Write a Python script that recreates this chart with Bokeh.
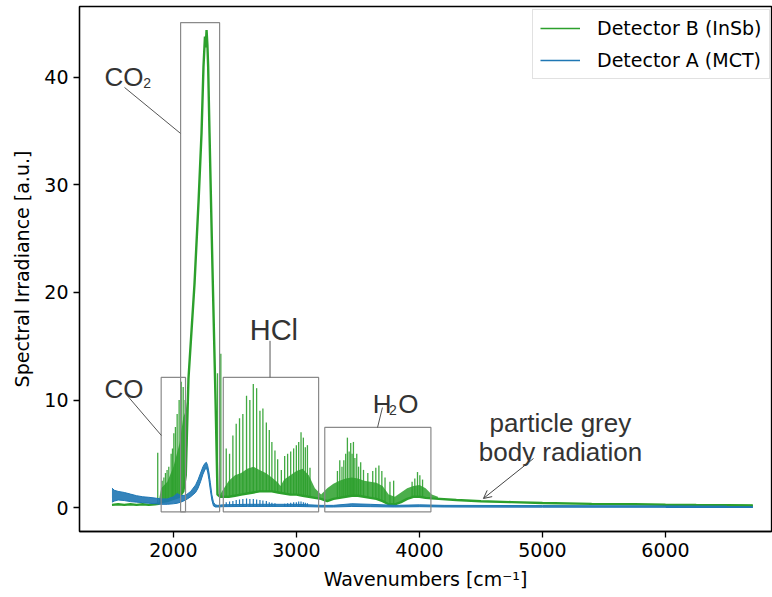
import numpy as np
from bokeh.plotting import figure
from bokeh.models import Range1d, FixedTicker, Legend, LegendItem, Arrow, OpenHead
from bokeh.core.properties import value
from bokeh.embed import file_html
from bokeh.resources import INLINE

# ---------------- data ----------------
# Detector B (InSb) - continuous trace
green_wn = [1500, 1550, 1600, 1650, 1700, 1750, 1800, 1850, 1880, 1900, 1950, 2000, 2050, 2080,
            2100, 2122, 2171, 2204, 2228, 2244, 2256, 2262, 2269, 2276, 2282, 2293, 2317, 2342,
            2358, 2380, 2400, 2450, 2500, 2550, 2600, 2650, 2700, 2750, 2800, 2850, 2900, 2950,
            3000, 3050, 3100, 3150, 3200, 3250, 3300, 3350, 3400, 3450, 3500, 3550, 3600, 3650,
            3700, 3750, 3800, 3850, 3900, 3950, 4000, 4050, 4100, 4300, 4500, 4750, 5000, 5400,
            5750, 6000, 6250, 6500, 6710]
green_val = [0.25, 0.3, 0.25, 0.3, 0.25, 0.3, 0.25, 0.3, 0.35, 0.5, 0.6, 0.8, 1.0, 1.5,
             3.0, 12.0, 20.8, 28.5, 34.8, 41.0, 43.8, 42.8, 44.4, 43.0, 41.0, 34.8, 22.3, 10.0,
             1.2, 1.0, 1.0, 1.0, 1.1, 1.2, 1.3, 1.4, 1.5, 1.5, 1.5, 1.4, 1.3, 1.2,
             1.2, 1.1, 1.0, 0.9, 0.8, 0.6, 0.8, 0.9, 1.0, 1.1, 1.1, 1.0, 0.9, 0.8,
             0.6, 0.3, 0.3, 0.5, 0.8, 1.0, 1.0, 0.9, 0.85, 0.7, 0.58, 0.5, 0.42, 0.34,
             0.3, 0.26, 0.23, 0.21, 0.19]

# Detector B dense (unresolved) line regions: lower / upper envelope
co_wn = [1880, 1900, 1950, 2000, 2050, 2080, 2100, 2112]
co_lo = [0.3, 0.5, 0.6, 0.8, 1.0, 1.5, 3.0, 6.0]
co_hi = [0.6, 1.8, 2.4, 3.8, 6.0, 8.4, 9.0, 10.0]

hcl_wn = [2380, 2400, 2450, 2500, 2550, 2600, 2650, 2700, 2750, 2800, 2850, 2870, 2900,
          2950, 3000, 3050, 3100, 3150, 3200]
hcl_lo = [1.0, 1.0, 1.0, 1.1, 1.2, 1.3, 1.4, 1.5, 1.5, 1.5, 1.4, 1.35, 1.3,
          1.2, 1.2, 1.1, 1.0, 0.9, 0.8]
hcl_hi = [1.2, 1.6, 2.5, 3.0, 3.2, 3.6, 3.8, 3.5, 3.2, 2.8, 2.3, 2.0, 2.6,
          3.0, 3.4, 3.6, 3.0, 1.8, 1.2]

h2o_wn = [3200, 3250, 3300, 3350, 3400, 3450, 3500, 3550, 3600, 3650, 3700, 3750, 3800,
          3850, 3900, 3950, 4000, 4050, 4100, 4150]
h2o_lo = [0.8, 0.6, 0.8, 0.9, 1.0, 1.1, 1.1, 1.0, 0.9, 0.8, 0.6, 0.3, 0.3,
          0.5, 0.8, 1.0, 1.0, 0.9, 0.85, 0.8]
h2o_hi = [1.2, 1.8, 2.2, 2.5, 2.7, 2.8, 2.7, 2.5, 2.4, 2.3, 2.0, 1.2, 1.0,
          1.4, 1.8, 2.0, 2.1, 1.8, 1.2, 1.0]

# Detector B resolved lines (position, peak)
green_spike_wn = [1872, 1908, 1922, 1935, 1948, 1962, 1981, 1992, 2003, 2016, 2030, 2046,
                  2063, 2079, 2095, 2358, 2385,
                  2429, 2456, 2483, 2510, 2537, 2564, 2594, 2621, 2649, 2676, 2703, 2727,
                  2755, 2779, 2800, 2825, 2847, 2877, 2904, 2928, 2953, 2977, 2999, 3018,
                  3037, 3056, 3072, 3089, 3110,
                  3333, 3352, 3370, 3385, 3400, 3414, 3428, 3441, 3452, 3463, 3475, 3490,
                  3505, 3522, 3545, 3580, 3620, 3645, 3670, 3694, 3720, 3760, 3790, 3940,
                  3962, 3984, 4003, 4025]
green_spike_top = [5.1, 2.5, 2.8, 3.2, 3.5, 3.8, 5.0, 5.5, 6.9, 7.5, 8.7, 10.0,
                   11.7, 11.2, 10.0, 12.5, 14.3,
                   5.5, 5.0, 6.7, 7.8, 8.3, 8.7, 10.4, 10.0, 11.5, 11.1, 9.0, 9.2,
                   7.9, 7.2, 6.1, 5.3, 4.5, 3.5, 4.8, 5.0, 5.2, 5.5, 5.8, 6.1,
                   7.0, 6.5, 5.6, 5.8, 3.7,
                   3.4, 4.4, 3.8, 4.4, 5.0, 6.5, 5.2, 6.0, 5.0, 6.1, 4.6, 5.0,
                   3.8, 4.2, 3.5, 3.2, 3.4, 3.7, 3.9, 3.4, 2.8, 2.4, 2.5, 2.4,
                   2.7, 3.3, 3.0, 2.6]

# Detector A (MCT) - noisy trace, lower / upper envelope
blue_wn = [1500, 1520, 1550, 1600, 1650, 1700, 1750, 1800, 1850, 1900, 1950, 2000, 2030,
           2060, 2100, 2140, 2180, 2200, 2220, 2240, 2255, 2268, 2278, 2288, 2300, 2312,
           2325, 2340, 2360, 2400, 2600, 2800, 3000, 3200, 3300, 3450, 3600, 3800, 4000,
           4200, 5000, 6000, 6710]
blue_lo = [0.5, 0.6, 0.7, 0.65, 0.55, 0.5, 0.45, 0.4, 0.35, 0.3, 0.3, 0.35, 0.4,
           0.5, 0.7, 1.0, 1.4, 1.8, 2.4, 3.1, 3.5, 3.7, 3.3, 2.6, 1.6, 0.7,
           0.15, 0.05, 0.05, 0.08, 0.1, 0.1, 0.1, 0.05, 0.05, 0.1, 0.08, 0.05, 0.08,
           0.05, 0.03, 0.02, 0.02]
blue_hi = [1.8, 1.6, 1.5, 1.4, 1.25, 1.1, 1.0, 0.95, 0.88, 0.8, 0.8, 1.0, 1.3,
           1.1, 1.15, 1.5, 2.1, 2.6, 3.2, 3.8, 4.1, 4.2, 3.9, 3.3, 2.3, 1.2,
           0.5, 0.25, 0.2, 0.25, 0.3, 0.3, 0.3, 0.2, 0.2, 0.35, 0.3, 0.2, 0.25,
           0.2, 0.18, 0.15, 0.12]

blue_spike_wn = [2429, 2456, 2483, 2510, 2537, 2564, 2594, 2621, 2649, 2676, 2703, 2727,
                 2755, 2779, 2800, 2825, 2904, 2928, 2953, 2977, 2999, 3018, 3037, 3056,
                 3072, 3089]
blue_spike_top = [0.5, 0.55, 0.6, 0.7, 0.75, 0.8, 0.85, 0.8, 0.8, 0.75, 0.7, 0.65,
                  0.6, 0.5, 0.45, 0.4, 0.35, 0.4, 0.45, 0.5, 0.5, 0.55, 0.55, 0.5,
                  0.45, 0.4]

# highlighted band regions
box_left = [1900, 2058, 2405, 3230]
box_right = [2098, 2375, 3180, 4093]
box_bottom = [-0.4, -0.4, -0.4, -0.4]
box_top = [12.1, 45.1, 12.1, 7.45]

x_ticks = [2000, 3000, 4000, 5000, 6000]
y_ticks = [0, 10, 20, 30, 40]

GREEN = "#2ca02c"
BLUE = "#1f77b4"

# ---------------- figure ----------------
p = figure(width=772, height=597, output_backend="svg", toolbar_location=None,
           x_range=Range1d(1236, 6862), y_range=Range1d(-2.23, 46.6),
           min_border_left=79, min_border_right=1, min_border_top=6, min_border_bottom=66)
p.background_fill_color = "white"
p.border_fill_color = "white"
p.grid.visible = False
p.outline_line_color = "black"
p.outline_line_width = 1.3
p.outline_line_alpha = 1

for ax, ticks in ((p.xaxis, x_ticks), (p.yaxis, y_ticks)):
    ax.ticker = FixedTicker(ticks=ticks)
    ax.minor_tick_line_color = None
    ax.major_tick_out = 6
    ax.major_tick_in = 0
    ax.major_tick_line_width = 1.3
    ax.axis_line_width = 1.3
    ax.major_label_text_font = "DejaVu Sans"
    ax.major_label_text_font_size = "19px"
    ax.major_label_text_color = "black"
    ax.major_label_standoff = 5
    ax.axis_label_text_font = "DejaVu Sans"
    ax.axis_label_text_font_size = "19px"
    ax.axis_label_text_font_style = "normal"
    ax.axis_label_text_color = "black"
p.xaxis.axis_label = "Wavenumbers [cm⁻¹]"
p.yaxis.axis_label = "Spectral Irradiance [a.u.]"
p.xaxis.axis_label_standoff = 8
p.yaxis.axis_label_standoff = 8

# Detector B
for wn, lo, hi in ((co_wn, co_lo, co_hi), (hcl_wn, hcl_lo, hcl_hi), (h2o_wn, h2o_lo, h2o_hi)):
    p.varea(x=wn, y1=lo, y2=hi, fill_color=GREEN, fill_alpha=0.85)
p.line(green_wn, green_val, line_color=GREEN, line_width=2.4)
g_bottom = np.interp(green_spike_wn, green_wn, green_val)
p.segment(x0=green_spike_wn, y0=g_bottom, x1=green_spike_wn, y1=green_spike_top,
          line_color=GREEN, line_width=1.3, line_alpha=0.9)

# Detector A
p.varea(x=blue_wn, y1=blue_lo, y2=blue_hi, fill_color=BLUE, fill_alpha=0.9)
p.line(blue_wn, blue_lo, line_color=BLUE, line_width=1)
p.line(blue_wn, blue_hi, line_color=BLUE, line_width=1)
b_bottom = np.interp(blue_spike_wn, blue_wn, blue_lo)
p.segment(x0=blue_spike_wn, y0=b_bottom, x1=blue_spike_wn, y1=blue_spike_top,
          line_color=BLUE, line_width=1.2)

# legend proxies (drawn over the existing tail of each trace)
lg = p.line(green_wn[-2:], green_val[-2:], line_color=GREEN, line_width=1.5)
lb = p.line(blue_wn[-2:], blue_lo[-2:], line_color=BLUE, line_width=1.5)
legend = Legend(items=[LegendItem(label="Detector B (InSb)", renderers=[lg]),
                       LegendItem(label="Detector A (MCT)", renderers=[lb])],
                location=(453, 452), label_text_font="DejaVu Sans", label_text_font_size="19px",
                label_text_color="black",
                glyph_width=40, glyph_height=20, label_standoff=17, spacing=10, padding=7,
                border_line_color="#c4c4c4", border_line_width=1.2, background_fill_alpha=0.8,
                margin=0)
p.add_layout(legend)

# annotation boxes
p.quad(left=box_left, right=box_right, bottom=box_bottom, top=box_top,
       fill_alpha=0, line_color="#8a8a8a", line_width=1.2)

# leader lines
lead_x0 = [1602, 1610, 2785, 3699]
lead_y0 = [39.07, 10.6, 15.5, 9.3]
lead_x1 = [2057, 1902, 2785, 3659]
lead_y1 = [34.8, 6.7, 12.1, 7.44]
p.segment(x0=lead_x0, y0=lead_y0, x1=lead_x1, y1=lead_y1, line_color="#555555", line_width=1)
p.add_layout(Arrow(end=OpenHead(size=8, line_color="#444444", line_width=1),
                   x_start=4927, y_start=4.56, x_end=4520, y_end=0.84,
                   line_color="#444444", line_width=1))

LBL = "#333333"
big = dict(text_font=value("Liberation Sans"), text_font_size="26px", text_color=LBL,
           text_baseline="alphabetic", text_align="left")
small = dict(text_font=value("Liberation Sans"), text_font_size="14px", text_color=LBL,
             text_baseline="alphabetic", text_align="left")
p.text(x=[1439, 1439, 3621, 3827], y=[40.0, 11.0, 9.65, 9.65],
       text=["CO", "CO", "H", "O"], **big)
p.text(x=[2620], y=[16.5], text=["HCl"], text_font=value("Liberation Sans"),
       text_font_size="29px", text_color=LBL, text_baseline="alphabetic", text_align="left")
p.text(x=[1754, 3752], y=[39.44, 9.1], text=["2", "2"], **small)
p.text(x=[5146, 5146], y=[7.9, 5.2], text=["particle grey", "body radiation"],
       text_font=value("Liberation Sans"), text_font_size="26px", text_color=LBL,
       text_baseline="alphabetic", text_align="center")

open("out.html", "w").write(file_html(p, INLINE))
